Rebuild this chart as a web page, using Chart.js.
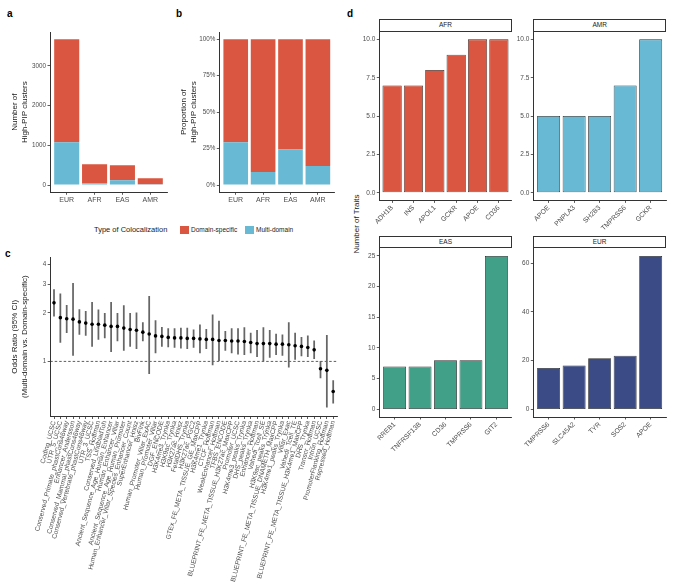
<!DOCTYPE html>
<html lang="en">
<head>
<meta charset="UTF-8">
<title>High-PIP clusters by ancestry</title>
<script src="https://cdn.jsdelivr.net/npm/chart.js"></script>
<style>
  html, body { margin: 0; padding: 0; background: #fff; }
  body { width: 680px; height: 588px; position: relative; overflow: hidden;
         font-family: 'Liberation Sans', Arial, sans-serif; color: #1a1a1a; }
  .box { position: absolute; }
  .tag { position: absolute; font-weight: bold; font-size: 10px; line-height: 1; color: #000; }
  .strip { position: absolute; box-sizing: border-box; border: 1px solid #333; background: #fff;
           font-size: 6.5px; text-align: center; color: #1a1a1a; }
  .leg { position: absolute; line-height: 1; white-space: nowrap; }
  .sw { position: absolute; width: 9px; height: 8px; }
  .rot { position: absolute; width: 120px; text-align: center; font-size: 8px; line-height: 10px;
         transform: rotate(-90deg); white-space: nowrap; }
</style>
</head>
<body>
<div class="tag" style="left:7px;top:9px">a</div>
<div class="tag" style="left:176px;top:9px">b</div>
<div class="tag" style="left:5px;top:249px">c</div>
<div class="tag" style="left:347px;top:9px">d</div>

<div class="leg" style="left:94px;top:226px;font-size:7.5px">Type of Colocalization</div>
<div class="sw" style="left:180px;top:226px;background:#DA5640"></div>
<div class="leg" style="left:191px;top:227px;font-size:6.5px">Domain-specific</div>
<div class="sw" style="left:245px;top:226px;background:#68B9D4"></div>
<div class="leg" style="left:256px;top:227px;font-size:6.5px">Multi-domain</div>

<div class="rot" style="left:296.5px;top:219px">Number of Traits</div>

<div class="strip" style="left:379.3px;top:19px;width:132.4px;height:12.7px;line-height:10.7px">AFR</div>
<div class="strip" style="left:533.3px;top:19px;width:132.7px;height:12.7px;line-height:10.7px">AMR</div>
<div class="strip" style="left:379.3px;top:235.6px;width:132.4px;height:12.7px;line-height:10.7px">EAS</div>
<div class="strip" style="left:533.3px;top:235.6px;width:132.7px;height:12.7px;line-height:10.7px">EUR</div>

<script>
// panels a and b
const ancestries = ['EUR', 'AFR', 'EAS', 'AMR'];
const domainSpecific = [2595, 473, 374, 146];
const multiDomain = [1075, 47, 121, 22];
const domainSpecificShare = [70.7, 91.1, 75.5, 87.0];
const multiDomainShare = [29.3, 8.9, 24.5, 13.0];

// panel c
const annotations = [
  'Coding_UCSC', 'UTR_5_UCSC', 'Conserved_Primate_phastCons46way', 'Enhancer_Andersson',
  'Conserved_Mammal_phastCons46way', 'Conserved_Vertebrate_phastCons46way', 'UTR_3_UCSC',
  'TSS_Hoffman', 'Conserved_LindbladToh', 'Ancient_Sequence_Age_Human_Enhancer',
  'Human_Enhancer_Villar', 'Ancient_Sequence_Age_Human_Promoter',
  'Human_Enhancer_Villar_Species_Enhancer_Count', 'SuperEnhancer_Hnisz', 'BivFlnk',
  'Human_Promoter_Villar_ExAC', 'Human_Promoter_Villar', 'DGF_ENCODE', 'H3K4me3_Trynka',
  'H3K9ac_Trynka', 'H3K27ac_Hnisz', 'FetalDHS_Trynka', 'H3K27ac_PGC2',
  'GTEx_FE_META_TISSUE_GE_MaxCPP', 'H3K4me1_Trynka', 'CTCF_Hoffman', 'WeakEnhancer_Hoffman',
  'TFBS_ENCODE', 'BLUEPRINT_FE_META_TISSUE_H3K27ac_MaxCPP', 'Promoter_UCSC',
  'H3K4me3_peaks_Trynka', 'DHS_peaks_Trynka', 'Enhancer_Hoffman', 'Vahedi_Tcell_SE',
  'H3K9ac_peaks_Trynka', 'BLUEPRINT_FE_META_TISSUE_DNAMETH_MaxCPP', 'H3K4me1_peaks_Trynka',
  'Villar_Exac', 'Vahedi_Tcell_TE', 'BLUEPRINT_FE_META_TISSUE_H3K4me1_MaxCPP', 'DHS_Trynka',
  'Transcr_Hoffman', 'Intron_UCSC', 'PromoterFlanking_Hoffman', 'Repressed_Hoffman'
];
const oddsRatio = [2.31, 1.87, 1.84, 1.83, 1.76, 1.73, 1.70, 1.70, 1.68, 1.65, 1.65, 1.61, 1.58, 1.56, 1.52,
  1.48, 1.44, 1.43, 1.41, 1.40, 1.40, 1.39, 1.39, 1.38, 1.37, 1.37, 1.35, 1.35, 1.34, 1.34,
  1.33, 1.31, 1.29, 1.29, 1.29, 1.28, 1.28, 1.27, 1.25, 1.24, 1.22, 1.18, 0.90, 0.88, 0.65];
const ciLow = [1.91, 1.31, 1.51, 1.09, 1.47, 1.45, 1.24, 1.37, 1.40, 1.15, 1.34, 1.17, 1.24, 1.20, 1.34,
  0.84, 1.13, 1.24, 1.23, 1.22, 1.21, 1.20, 1.22, 1.13, 1.20, 0.95, 1.01, 1.17, 1.13, 1.11,
  1.10, 1.13, 1.07, 1.01, 1.06, 1.10, 1.09, 0.92, 1.03, 1.08, 1.07, 1.04, 0.79, 0.52, 0.55];
const ciHigh = [2.79, 2.63, 2.23, 3.05, 2.10, 2.05, 2.33, 2.09, 1.99, 2.33, 1.99, 2.22, 1.99, 2.00, 1.74,
  2.54, 1.79, 1.63, 1.60, 1.60, 1.61, 1.61, 1.57, 1.69, 1.58, 1.95, 1.78, 1.54, 1.60, 1.60,
  1.62, 1.50, 1.56, 1.62, 1.56, 1.48, 1.46, 1.74, 1.50, 1.41, 1.44, 1.34, 1.00, 1.45, 0.76];
const orTicks = [1, 2, 3, 4];

// panel d
const afrGenes = ['ADH1B', 'INS', 'APOL1', 'GCKR', 'APOE', 'CD36'];
const afrTraits = [7, 7, 8, 9, 10, 10];
const amrGenes = ['APOE', 'PNPLA3', 'SH2B3', 'TMPRSS6', 'GCKR'];
const amrTraits = [5, 5, 5, 7, 10];
const easGenes = ['RREB1', 'TNFRSF13B', 'CD36', 'TMPRSS6', 'GIT2'];
const easTraits = [7, 7, 8, 8, 25];
const eurGenes = ['TMPRSS6', 'SLC45A2', 'TYR', 'SOS2', 'APOE'];
const eurTraits = [17, 18, 21, 22, 63];

const RED = '#DA5640', BLUE = '#68B9D4', GREEN = '#40A088', NAVY = '#3B4B86';
const INK = '#333', TICK_TEXT = '#4d4d4d';

Chart.defaults.font.family = "'Liberation Sans', Arial, sans-serif";
Chart.defaults.animation = false;
Chart.defaults.events = [];
Chart.defaults.plugins.legend.display = false;
Chart.defaults.plugins.tooltip.enabled = false;

// canvas box so the plot area lands on (L,T)-(R,B)
function frame(left, top, width, height) {
  const wrap = document.createElement('div');
  wrap.className = 'box';
  wrap.style.left = left + 'px';
  wrap.style.top = top + 'px';
  wrap.style.width = width + 'px';
  wrap.style.height = height + 'px';
  const cv = document.createElement('canvas');
  wrap.appendChild(cv);
  document.body.appendChild(wrap);
  return { cv, left, top, width, height };
}

function axisX(min, max, labels, h, rot, size) {
  return {
    type: 'linear', min, max, offset: false,
    afterBuildTicks: a => { a.ticks = labels.map((_, i) => ({ value: i })); },
    afterFit: a => { a.height = h; a.paddingLeft = 0; a.paddingRight = 0; a.paddingTop = 0; a.paddingBottom = 0; },
    ticks: { callback: v => labels[v], autoSkip: false, minRotation: rot, maxRotation: rot,
             color: TICK_TEXT, font: { size }, padding: 1 },
    grid: { display: true, offset: false, drawOnChartArea: false, drawTicks: true, tickLength: 2.5, color: INK, lineWidth: 0.8 },
    border: { display: true, color: INK, width: 1 }
  };
}

function axisY(type, min, max, ticks, fmt, w, size, title, titlePad) {
  return {
    type, min, max, beginAtZero: false,
    afterBuildTicks: a => { a.ticks = ticks.map(v => ({ value: v })); },
    afterFit: a => { a.width = w; a.paddingLeft = 0; a.paddingRight = 0; a.paddingTop = 0; a.paddingBottom = 0; },
    ticks: { callback: fmt, color: TICK_TEXT, font: { size }, padding: 1.5 },
    grid: { display: true, drawOnChartArea: false, drawTicks: true, tickLength: 2.5, color: INK, lineWidth: 0.8 },
    border: { display: true, color: INK, width: 1 },
    title: title ? { display: true, text: title, color: '#1a1a1a', font: { size: 8 }, padding: { top: titlePad, bottom: 0 } }
                 : { display: false }
  };
}

function layoutFor(f, L, T, R, B) {
  return { yw: L - f.left, xh: f.top + f.height - B, pad: { left: 0, top: T - f.top, right: f.left + f.width - R, bottom: 0 } };
}

function stackedPanel(f, L, T, R, B, lowVals, highVals, yMin, yMax, yTicks, fmt, title, titlePad) {
  const g = layoutFor(f, L, T, R, B);
  const n = ancestries.length;
  return new Chart(f.cv, {
    type: 'bar',
    data: {
      datasets: [
        { label: 'Multi-domain', data: lowVals.map((v, i) => ({ x: i, y: v })), backgroundColor: BLUE, borderWidth: 0 },
        { label: 'Domain-specific', data: highVals.map((v, i) => ({ x: i, y: v })), backgroundColor: RED, borderWidth: 0 }
      ]
    },
    options: {
      responsive: true, maintainAspectRatio: false,
      layout: { padding: g.pad },
      datasets: { bar: { barPercentage: 0.9, categoryPercentage: 1 } },
      scales: {
        x: Object.assign(axisX(-0.6, n - 0.4, ancestries, g.xh, 0, 7), { stacked: true }),
        y: Object.assign(axisY('linear', yMin, yMax, yTicks, fmt, g.yw, 6.3, title, titlePad), { stacked: true })
      }
    }
  });
}

stackedPanel(frame(0, 20, 170, 188), 50, 32, 167, 192.3, multiDomain, domainSpecific,
  -183.5, 3853.5, [0, 1000, 2000, 3000], v => String(v), ['Number of', 'High-PIP clusters'], 10);

stackedPanel(frame(172, 20, 165, 188), 219.3, 32, 334.3, 192.3, multiDomainShare, domainSpecificShare,
  -5, 105, [0, 25, 50, 75, 100], v => v + '%', ['Proportion of', 'High-PIP clusters'], 7.2);

// panel c: odds ratios with 95% CI on a log axis
(function () {
  const f = frame(0, 245, 341, 343);
  const g = layoutFor(f, 50.2, 257, 337.5, 416.5);
  const n = annotations.length;
  new Chart(f.cv, {
    type: 'bar',
    data: {
      datasets: [
        { type: 'line', data: [{ x: -0.6, y: 1 }, { x: n - 0.4, y: 1 }], borderColor: INK, borderWidth: 0.8,
          borderDash: [2.5, 2], pointRadius: 0, order: 3 },
        { type: 'bar', data: annotations.map((_, i) => ({ x: i, y: [ciLow[i], ciHigh[i]] })),
          backgroundColor: '#666666', borderWidth: 0, barThickness: 1.1, order: 2 },
        { type: 'scatter', data: oddsRatio.map((v, i) => ({ x: i, y: v })), backgroundColor: '#000',
          borderWidth: 0, pointRadius: 1.8, order: 1 }
      ]
    },
    options: {
      responsive: true, maintainAspectRatio: false,
      layout: { padding: g.pad },
      scales: {
        x: axisX(-0.6, n - 0.4, annotations, g.xh, 75, 6.7),
        y: axisY('logarithmic', 0.455, 4.45, orTicks, v => String(v), g.yw, 6.3,
          ['Odds Ratio (95% CI)', '(Multi-domain vs. Domain-specific)'], 10)
      }
    }
  });
})();

// panel d: facets
function facet(f, L, T, R, B, genes, traits, color, yMax, yTicks, fmt) {
  const g = layoutFor(f, L, T, R, B);
  const exp = yMax * 0.05;
  return new Chart(f.cv, {
    type: 'bar',
    data: {
      datasets: [{ data: traits.map((v, i) => ({ x: i, y: v })), backgroundColor: color,
                   borderColor: '#2b2b2b', borderWidth: 0.8, borderSkipped: false }]
    },
    options: {
      responsive: true, maintainAspectRatio: false,
      layout: { padding: g.pad },
      datasets: { bar: { barPercentage: 0.9, categoryPercentage: 1 } },
      scales: {
        x: axisX(-0.6, genes.length - 0.4, genes, g.xh, 45, 6.8),
        y: axisY('linear', -exp, yMax + exp, yTicks, fmt, g.yw, 6.5, null, 0)
      }
    }
  });
}

facet(frame(357, 24, 157, 212), 379.3, 31.7, 511.7, 200.4, afrGenes, afrTraits, RED, 10,
  [0, 2.5, 5, 7.5, 10], v => v.toFixed(1));
facet(frame(512, 24, 157, 212), 533.3, 31.7, 666, 200.4, amrGenes, amrTraits, BLUE, 10,
  [0, 2.5, 5, 7.5, 10], v => v.toFixed(1));
facet(frame(357, 240, 157, 215), 379.3, 248.3, 511.7, 417, easGenes, easTraits, GREEN, 25,
  [0, 5, 10, 15, 20, 25], v => String(v));
facet(frame(512, 240, 157, 215), 533.3, 248.3, 666, 417, eurGenes, eurTraits, NAVY, 63,
  [0, 20, 40, 60], v => String(v));
</script>
</body>
</html>
